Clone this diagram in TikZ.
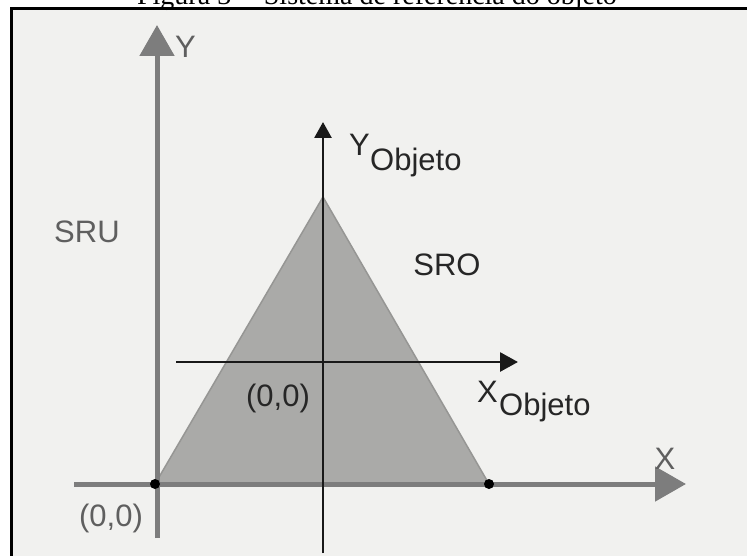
\documentclass[tikz,border=0pt]{standalone}
\usepackage{fontspec}
\setmainfont{Liberation Sans}
\newfontfamily\capfont{Liberation Serif}
\usetikzlibrary{arrows.meta}
\definecolor{paper}{RGB}{241,241,239}
\definecolor{axisgrey}{RGB}{125,125,125}
\definecolor{textgrey}{RGB}{95,95,95}
\definecolor{trifill}{RGB}{170,170,168}
\definecolor{triedge}{RGB}{150,150,148}
\tikzset{
  lbl/.style={inner sep=0pt, font=\fontsize{31}{31}\selectfont},
  grey lbl/.style={lbl, text=textgrey},
  black lbl/.style={lbl, text=black!85},
  sru axis/.style={draw=axisgrey, line width=5pt, -{Triangle[length=31pt,width=34pt]}},
  sro axis/.style={draw=black!90, line width=2.8pt},
  dotmark/.style={circle, fill=black, inner sep=0pt, minimum size=10pt},
}
\begin{document}
\begin{tikzpicture}[x=1pt,y=-1pt]
\useasboundingbox (0,0) rectangle (747,556);
\clip (0,0) rectangle (747,556);
\fill[white] (0,0) rectangle (747,556);
\fill[paper] (11,8.5) rectangle (747,556);
% caption (cut off at the top)
\node[anchor=base, inner sep=0pt, font=\capfont\fontsize{28}{28}\selectfont] (caption) at (377,5) {Figura 3 -- Sistema de referência do objeto};
\draw[line width=3pt] (11,556) -- (11,8.5) -- (747,8.5);
% triangle
\coordinate (tl) at (155,484);
\coordinate (tt) at (323,197);
\coordinate (tr) at (489,484);
\filldraw[fill=trifill, draw=triedge, line width=1.5pt] (tl) -- (tt) -- (tr) -- cycle;
% SRU axes
\coordinate (ybot) at (157,538);
\coordinate (ytop) at (157,25);
\coordinate (xleft) at (74,484);
\coordinate (xright) at (686,484);
\draw[sru axis] (ybot) -- (ytop);
\draw[sru axis] (xleft) -- (xright);
% SRO axes
\coordinate (oybot) at (323,553);
\coordinate (oytop) at (323,122);
\coordinate (oxleft) at (176,362);
\coordinate (oxright) at (518,362);
\draw[sro axis, -{Triangle[length=16pt,width=17pt]}] (oybot) -- (oytop);
\draw[sro axis, -{Triangle[length=18pt,width=19pt]}] (oxleft) -- (oxright);
% dots
\node[dotmark] (o1) at (tl) {};
\node[dotmark] (o2) at (tr) {};
% labels
\node[grey lbl, anchor=base west] (ylab) at (175,58) {Y};
\node[grey lbl, anchor=base west] (sru) at (54,243) {SRU};
\node[grey lbl, anchor=base] (xlab) at (665,469) {X};
\node[grey lbl, anchor=base] (orig) at (111,526) {(0,0)};
\node[black lbl, anchor=base] (sro) at (447,275) {SRO};
\node[black lbl, anchor=base] (origo) at (278,406) {(0,0)};
\node[black lbl, anchor=base west] (yo) at (349,156) {Y};
\node[black lbl, anchor=base west] (yosub) at (370,171) {Objeto};
\node[black lbl, anchor=base west] (xo) at (477,402) {X};
\node[black lbl, anchor=base west] (xosub) at (499,415) {Objeto};
\end{tikzpicture}
\end{document}
